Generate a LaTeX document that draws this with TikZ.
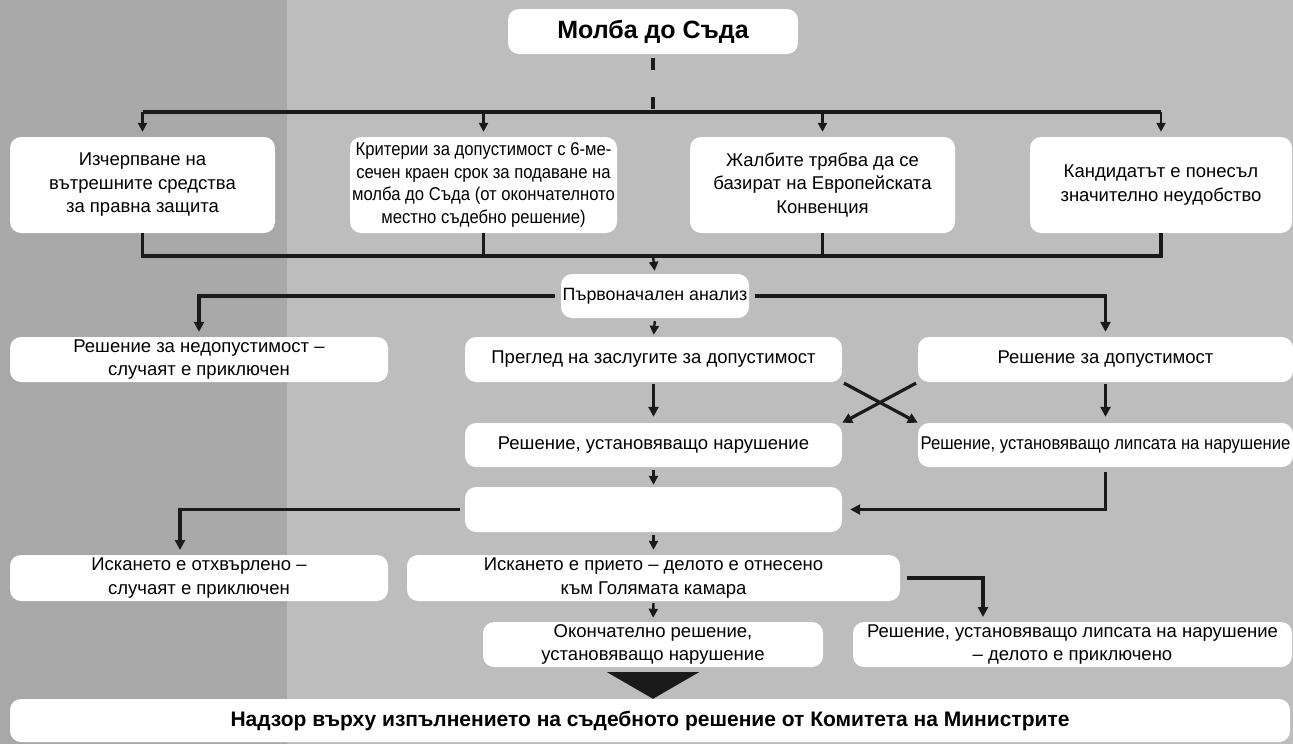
\documentclass[tikz,border=0pt]{standalone}
\usepackage{fontspec}
\setmainfont{Liberation Sans}
\newfontfamily\narrowfont[FakeStretch=0.9]{Liberation Sans}
\usetikzlibrary{arrows.meta}

\definecolor{bgdark}{RGB}{168,168,168}
\definecolor{bglight}{RGB}{189,189,189}
\definecolor{ink}{RGB}{26,26,26}

\tikzset{
  box/.style={fill=white, rounded corners=11pt, align=center, inner sep=0pt,
              font=\fontsize{18.5}{23.5}\selectfont},
  link/.style={draw=ink, line width=3.2pt},
  arr/.style={link, -{Triangle[length=10pt,width=10pt]}},
  stub/.style={draw=ink, line width=2.4pt, -{Triangle[length=9pt,width=9pt]}},
}

\begin{document}
\begin{tikzpicture}[x=1pt,y=-1pt]
    \useasboundingbox (0,0) rectangle (1293,744);
    \fill[bglight] (0,0) rectangle (1293,744);
    \fill[bgdark] (0,0) rectangle (287,744);

    % boxes
    \node[box, font=\fontsize{25}{28}\bfseries, minimum width=290pt, minimum height=45pt] (top) at (653,31.5) {Молба до Съда};
    \node[box, minimum width=265pt, minimum height=96pt] (c1) at (142.5,185) {Изчерпване на\\вътрешните средства\\за правна защита};
    \node[box, font=\fontsize{18.5}{22.5}\narrowfont, minimum width=267pt, minimum height=96pt] (c2) at (483.5,185) {Критерии за допустимост с 6-ме-\\сечен краен срок за подаване на\\молба до Съда (от окончателното\\местно съдебно решение)};
    \node[box, minimum width=265pt, minimum height=96pt] (c3) at (822.5,185) {Жалбите трябва да се\\базират на Европейската\\Конвенция};
    \node[box, minimum width=262pt, minimum height=96pt] (c4) at (1161,185) {Кандидатът е понесъл\\значително неудобство};
    \node[box, font=\fontsize{17.8}{22}\selectfont, minimum width=188pt, minimum height=44pt] (analysis) at (655,296) {Първоначален анализ};
    \node[box, minimum width=378pt, minimum height=45pt] (inadm) at (199,359.5) {Решение за недопустимост –\\случаят е приключен};
    \node[box, minimum width=377pt, minimum height=45pt] (merits) at (653.5,359.5) {Преглед на заслугите за допустимост};
    \node[box, minimum width=375pt, minimum height=45pt] (adm) at (1105.5,359.5) {Решение за допустимост};
    \node[box, minimum width=377pt, minimum height=44pt] (viol) at (653.5,445) {Решение, установяващо нарушение};
    \node[box, font=\fontsize{18.5}{22}\narrowfont, minimum width=375pt, minimum height=44pt] (noviol) at (1105.5,445) {Решение, установяващо липсата на нарушение};
    \node[box, minimum width=377pt, minimum height=45pt] (blank) at (653.5,509.5) {};
    \node[box, minimum width=378pt, minimum height=46pt] (rejected) at (199,578) {Искането е отхвърлено –\\случаят е приключен};
    \node[box, minimum width=493pt, minimum height=46pt] (accepted) at (653.5,578) {Искането е прието – делото е отнесено\\към Голямата камара};
    \node[box, minimum width=340pt, minimum height=45pt] (final) at (653,644.5) {Окончателно решение,\\установяващо нарушение};
    \node[box, minimum width=439pt, minimum height=45pt] (finalno) at (1072.5,644.5) {Решение, установяващо липсата на нарушение\\– делото е приключено};
    \node[box, font=\fontsize{21}{24}\bfseries, minimum width=1280pt, minimum height=43pt] (super) at (650,720.5) {Надзор върху изпълнението на съдебното решение от Комитета на Министрите};

    \coordinate (bus1) at (653,112);
    \coordinate (bus2) at (653,256);
    \coordinate (rj) at (180,555);  % rejected, off centre
    \coordinate (fn) at (983,622);  % finalno, off centre

    % top to criteria
    \draw[link, dash pattern=on 12pt off 27pt] ([yshift=-4pt]top.south) -- (bus1);
    \draw[link] (c1.north |- bus1) -- (c4.north |- bus1);
    \foreach \n in {c1,c2,c3,c4}
      \draw[stub, shorten >=5pt] (\n.north |- bus1) -- (\n.north);
    % criteria to analysis
    \draw[link] (c1.south) -- (c1.south |- bus2) -- (c4.south |- bus2) -- (c4.south);
    \draw[link] (c2.south) -- (c2.south |- bus2);
    \draw[link] (c3.south) -- (c3.south |- bus2);
    \draw[stub, shorten >=3pt] (bus2) -- (analysis.north);
    % analysis
    \draw[arr, shorten >=5pt] ([xshift=-6pt]analysis.west) -| (inadm.north);
    \draw[arr, shorten >=5pt] ([xshift=6pt]analysis.east) -| (adm.north);
    \draw[stub, shorten <=3pt, shorten >=2pt] (analysis.south) -- (merits.north);
    % merits / admissibility
    \draw[arr, shorten <=2pt, shorten >=6pt] (merits.south) -- (viol.north);
    \draw[arr, shorten <=2pt, shorten >=6pt] (adm.south) -- (noviol.north);
    \draw[arr, shorten <=2pt] (merits.south east) -- (noviol.north west);
    \draw[arr, shorten <=2pt] (adm.south west) -- (viol.north east);
    % judgment
    \draw[stub, shorten <=3pt, shorten >=2pt] (viol.south) -- (blank.north);
    \draw[arr, shorten <=5pt, shorten >=8pt] (noviol.south) |- (blank.east);
    \draw[arr, shorten <=5pt, shorten >=5pt] (blank.west) -| (rj);
    \draw[stub, shorten <=3pt, shorten >=5pt] (blank.south) -- (accepted.north);
    % grand chamber
    \draw[arr, shorten <=7pt, shorten >=5pt] (accepted.east) -| (fn);
    \draw[stub, shorten <=2pt, shorten >=4pt] (accepted.south) -- (final.north);
    \fill[ink] ([xshift=-46pt,yshift=-5pt]final.south) -- ([xshift=46pt,yshift=-5pt]final.south) -- (super.north -| final.south) -- cycle;
\end{tikzpicture}
\end{document}
